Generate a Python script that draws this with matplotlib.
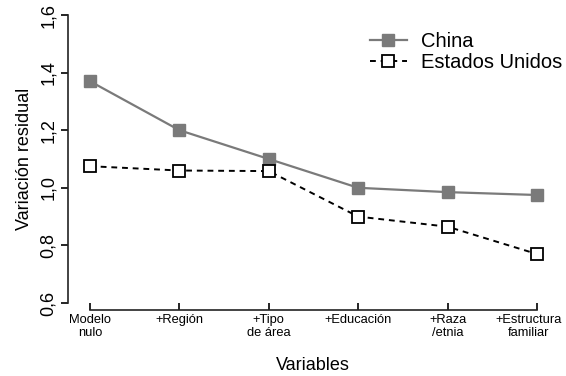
import numpy as np
import matplotlib.pyplot as plt
from matplotlib.transforms import ScaledTranslation

plt.rcParams['font.family'] = ['Liberation Sans', 'DejaVu Sans']

# data
categorias = ['Modelo\nnulo', '+Región', '+Tipo\nde área', '+Educación', '+Raza\n/etnia', '+Estructura\nfamiliar']
china = [1.37, 1.20, 1.10, 1.00, 0.985, 0.975]
estados_unidos = [1.075, 1.06, 1.058, 0.90, 0.865, 0.77]
yticks = [0.6, 0.8, 1.0, 1.2, 1.4, 1.6]

fig = plt.figure(figsize=(5.66, 3.76), dpi=100)
ax = fig.add_axes([68 / 566, 73 / 376, 490 / 566, 288 / 376])

x = np.arange(len(categorias))
ax.plot(x, china, color='#7a7a7a', lw=1.6, marker='s', ms=8,
        mfc='#7a7a7a', mec='#7a7a7a', label='China', clip_on=False)
ax.plot(x, estados_unidos, color='black', lw=1.4, ls=(0, (3, 2.5)), marker='s', ms=9,
        mfc='white', mec='black', mew=1.3, label='Estados Unidos', clip_on=False)

ax.set_xlim(-0.246, 5.235)
ax.set_ylim(0.6, 1.6)

ax.spines['top'].set_visible(False)
ax.spines['right'].set_visible(False)
ax.spines['left'].set_bounds(0.6, 1.6)
ax.spines['bottom'].set_position(('outward', 5))
ax.spines['bottom'].set_bounds(0, 5)
for s in ('left', 'bottom'):
    ax.spines[s].set_linewidth(1.2)
    ax.spines[s].set_color('#222222')

ax.set_yticks(yticks)
ax.set_yticklabels([f'{v:.1f}'.replace('.', ',') for v in yticks],
                   rotation=90, va='center', fontsize=13)
ax.tick_params(axis='y', direction='out', length=5, width=1.2, pad=3)

ax.set_xticks(x)
ax.set_xticklabels(categorias, fontsize=9.3, linespacing=1.1)
ax.tick_params(axis='x', direction='in', length=5, width=1.2, pad=3)
last = ax.get_xticklabels()[-1]
last.set_ha('right')
last.set_multialignment('center')
last.set_transform(last.get_transform() + ScaledTranslation(25 / 100, 0, fig.dpi_scale_trans))

ax.set_ylabel('Variación residual', fontsize=13, labelpad=5)
ax.set_xlabel('Variables', fontsize=13, labelpad=13)

ax.legend(loc='upper right', bbox_to_anchor=(1.045, 1.005), frameon=False, fontsize=14.5,
          handlelength=1.8, handletextpad=0.7, labelspacing=0.1)

fig.savefig('out.png', dpi=100)
